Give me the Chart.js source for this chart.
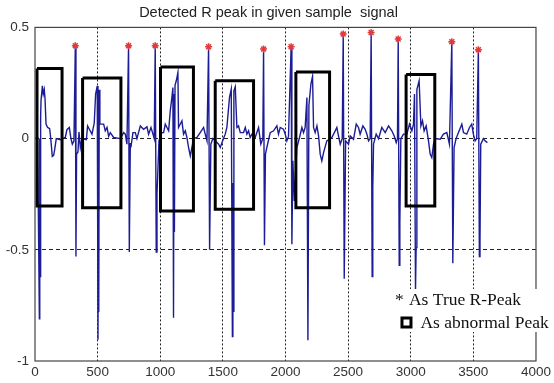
<!DOCTYPE html>
<html>
<head>
<meta charset="utf-8">
<script src="https://cdn.jsdelivr.net/npm/chart.js@4.4.1/dist/chart.umd.min.js"></script>
<style>
  html, body { margin: 0; padding: 0; background: #fff; }
</style>
</head>
<body>
<canvas id="ecg" width="554" height="383"></canvas>
<script>
const chartTitle = 'Detected R peak in given sample  signal';
const xTicks = [0, 500, 1000, 1500, 2000, 2500, 3000, 3500, 4000];
const xTickLabels = ['0', '500', '1000', '1500', '2000', '2500', '3000', '3500', '4000'];
const yTicks = [-1, -0.5, 0, 0.5];
const yTickLabels = ['-1', '-0.5', '0', '0.5'];

// ECG samples (sample index, amplitude)
const sigX = [0, 21, 35, 38, 41, 45, 48, 59, 66, 74, 80, 88, 101, 117, 125, 138, 149, 157, 170, 202,
  242, 255, 274, 287, 298, 311, 322, 327, 332, 343, 351, 362, 375, 410, 420, 436, 455, 473, 484, 497,
  503, 506, 509, 513, 518, 548, 561, 575, 588, 601, 628, 681, 708, 721, 734, 747, 753, 761, 766, 782,
  801, 814, 841, 867, 894, 907, 926, 942, 952, 960, 968, 974, 990, 1013, 1027, 1040, 1067, 1080, 1093, 1101,
  1106, 1110, 1113, 1118, 1128, 1141, 1146, 1173, 1186, 1200, 1213, 1226, 1240, 1253, 1266, 1293, 1319, 1346, 1359, 1373,
  1386, 1394, 1404, 1420, 1439, 1466, 1479, 1505, 1519, 1532, 1553, 1567, 1576, 1580, 1583, 1588, 1599, 1612, 1625, 1639,
  1665, 1679, 1692, 1705, 1718, 1732, 1745, 1758, 1785, 1803, 1819, 1825, 1832, 1840, 1851, 1878, 1905, 1931, 1944, 1958,
  1984, 1998, 2011, 2024, 2045, 2051, 2059, 2070, 2080, 2091, 2112, 2131, 2144, 2157, 2171, 2179, 2187, 2203, 2216, 2224,
  2237, 2251, 2264, 2277, 2290, 2304, 2330, 2370, 2397, 2410, 2423, 2437, 2453, 2461, 2469, 2480, 2503, 2517, 2543, 2565,
  2583, 2596, 2618, 2636, 2650, 2663, 2676, 2684, 2692, 2697, 2703, 2724, 2743, 2769, 2796, 2823, 2849, 2868, 2884, 2894,
  2900, 2908, 2913, 2921, 2942, 2969, 2990, 3009, 3022, 3030, 3038, 3043, 3049, 3067, 3081, 3094, 3107, 3123, 3142, 3155,
  3168, 3182, 3195, 3235, 3261, 3288, 3309, 3328, 3336, 3346, 3362, 3381, 3408, 3421, 3447, 3469, 3487, 3500, 3514, 3527,
  3535, 3540, 3548, 3553, 3559, 3580, 3593, 3612];
const sigY = [0, 0.005, -0.81, 0.0, -0.62, 0.1, 0.17, 0.237, 0.2, 0.22, 0.18, 0.065, 0.05, 0.045, 0.005, -0.08, -0.075, -0.05, 0, -0.005,
  0.005, 0.04, 0.05, 0, -0.025, -0.01, 0.418, -0.53, -0.07, -0.06, 0.03, -0.04, 0, -0.005, 0.057, 0.04, 0.02, 0.07, 0.2, 0.237,
  -0.904, -0.3, -0.78, 0.22, 0.065, 0.065, 0.035, 0.05, 0.01, 0.027, 0.005, 0, 0.027, 0.02, -0.025, 0.418, -0.51, -0.02, -0.04, 0.027,
  0.027, 0, 0.057, 0.042, 0.053, 0.02, 0.05, 0.02, 0, 0.418, -0.51, -0.25, -0.01, 0.027, 0.027, 0.065, 0.035, 0.125, 0.185, 0.23,
  -0.806, 0.2, -0.42, 0.24, 0.26, 0.297, 0.05, 0.08, 0.02, 0.035, 0.005, -0.04, -0.078, -0.04, 0, 0.005, 0.027, 0.05, 0.02, -0.01,
  0.413, -0.5, -0.025, 0, -0.01, -0.025, -0.04, 0, 0.02, 0.05, 0.185, 0.222, -0.89, -0.2, -0.776, 0.215, 0.233, 0.05, 0.057, 0.027,
  0.027, 0.05, 0.02, 0.035, 0.005, 0.02, 0.012, 0.005, 0.05, -0.025, 0, 0.403, -0.48, -0.07, -0.04, 0.027, 0.035, 0.057, 0.02, 0.05,
  0.042, 0.02, -0.01, 0.01, 0.413, -0.475, -0.1, -0.28, -0.15, -0.04, 0.005, 0.05, 0.027, 0.05, 0.185, -0.907, 0.15, 0.245, 0.28, 0.05,
  0.027, 0.057, 0.012, -0.07, -0.1, -0.063, -0.01, 0.005, 0.035, 0.05, 0.012, -0.025, 0, 0.47, -0.63, -0.01, -0.025, 0.012, -0.003, 0.065,
  0.05, 0.02, 0.057, 0.042, 0.02, -0.01, 0, 0.477, -0.62, -0.22, -0.025, 0.02, 0, 0.05, 0.027, 0.057, 0.035, 0.012, -0.018, 0,
  0.448, -0.57, -0.38, 0, 0.02, 0.02, 0.065, 0.035, 0.065, 0.2, -0.686, -0.49, 0.22, 0.26, 0.057, 0.08, 0.035, 0.057, -0.01, -0.07,
  -0.085, -0.025, 0, -0.003, 0.02, 0.027, -0.025, 0.436, -0.56, -0.04, 0, 0.027, 0.065, 0.027, 0.02, 0.05, 0.065, 0.02, -0.01, 0,
  0.25, 0.4, -0.53, -0.46, -0.025, 0, -0.01, -0.018];

// detected true R peaks (red asterisks)
const peakX = [322, 747, 960, 1386, 1825, 2045, 2461, 2684, 2900, 3328, 3540];
const peakY = [0.418, 0.418, 0.418, 0.413, 0.403, 0.413, 0.47, 0.477, 0.448, 0.436, 0.4];

// abnormal beat boxes
const boxLeft = [16, 380, 1002, 1439, 2083, 2963];
const boxRight = [216, 686, 1265, 1745, 2352, 3192];
const boxTop = [0.315, 0.272, 0.322, 0.26, 0.3, 0.288];
const boxBottom = [-0.303, -0.311, -0.326, -0.318, -0.311, -0.303];

const legendLabels = ['As True R-Peak', 'As abnormal Peak'];

const tickFont = { family: '"Liberation Sans", Arial, sans-serif', size: 13.5 };

const datasets = [];
datasets.push({
  label: 'R peaks',
  data: peakX.map((x, i) => ({ x: x, y: peakY[i] })),
  showLine: false,
  pointStyle: 'star',
  pointRadius: 3.5,
  pointBorderColor: '#e23a3a',
  pointBorderWidth: 1.5,
  order: 0
});
boxLeft.forEach((l, i) => {
  const r = boxRight[i], t = boxTop[i], b = boxBottom[i];
  datasets.push({
    label: 'box' + i,
    data: [{ x: l, y: t }, { x: r, y: t }, { x: r, y: b }, { x: l, y: b }, { x: l, y: t }],
    borderColor: '#000',
    borderWidth: 3,
    borderJoinStyle: 'miter',
    pointRadius: 0,
    fill: false,
    order: 1
  });
});
datasets.push({
  label: 'signal',
  data: sigX.map((x, i) => ({ x: x, y: sigY[i] })),
  borderColor: '#1c1c96',
  borderWidth: 1.4,
  pointRadius: 0,
  tension: 0,
  fill: false,
  order: 2
});

// frame around plot + legend box in lower right
const framePlugin = {
  id: 'frameAndLegend',
  afterDraw(chart) {
    const { ctx, chartArea: a } = chart;
    ctx.save();
    ctx.strokeStyle = '#444';
    ctx.lineWidth = 1.2;
    ctx.strokeRect(a.left, a.top, a.right - a.left, a.bottom - a.top);

    const lx = a.right - 145;
    const ly = a.bottom - 72;
    ctx.fillStyle = '#fff';
    ctx.fillRect(lx, ly, chart.width - lx, 43);
    ctx.fillStyle = '#111';
    ctx.font = '17.5px "Liberation Serif", "Times New Roman", serif';
    ctx.textBaseline = 'middle';
    ctx.fillText('*', lx + 4, ly + 11);
    ctx.fillText(legendLabels[0], lx + 18, ly + 11);
    ctx.strokeStyle = '#000';
    ctx.lineWidth = 3;
    ctx.strokeRect(lx + 11, ly + 29, 9, 9);
    ctx.fillText(legendLabels[1], lx + 29.5, ly + 34);
    ctx.restore();
  }
};

new Chart(document.getElementById('ecg').getContext('2d'), {
  type: 'line',
  data: { datasets: datasets },
  options: {
    responsive: false,
    animation: false,
    layout: { padding: { left: 0, right: 17, top: 0, bottom: 0 } },
    plugins: {
      legend: { display: false },
      tooltip: { enabled: false },
      title: {
        display: true,
        text: chartTitle,
        color: '#222',
        font: { family: '"Liberation Sans", Arial, sans-serif', size: 14.5, weight: 'normal' },
        padding: { top: 4, bottom: 6 }
      }
    },
    scales: {
      x: {
        type: 'linear',
        min: 0,
        max: 4000,
        afterBuildTicks: s => { s.ticks = xTicks.map(v => ({ value: v })); },
        afterFit: s => { s.height = 22; },
        ticks: {
          color: '#333', font: tickFont, padding: 3, maxRotation: 0, autoSkip: false,
          callback: (v) => xTickLabels[xTicks.indexOf(v)]
        },
        grid: {
          drawTicks: false,
          color: c => (c.tick && (c.tick.value === 0 || c.tick.value === 4000)) ? 'rgba(0,0,0,0)' : '#222',
          lineWidth: 1
        },
        border: { display: false, dash: [2, 2] }
      },
      y: {
        type: 'linear',
        min: -1,
        max: 0.5,
        afterBuildTicks: s => { s.ticks = yTicks.map(v => ({ value: v })); },
        afterFit: s => { s.width = 35; },
        ticks: {
          color: '#333',
          font: tickFont,
          padding: 6,
          callback: (v) => yTickLabels[yTicks.indexOf(v)]
        },
        grid: {
          drawTicks: false,
          color: c => (c.tick && (c.tick.value === -1 || c.tick.value === 0.5)) ? 'rgba(0,0,0,0)' : '#222',
          lineWidth: 1
        },
        border: { display: false, dash: [4, 3] }
      }
    }
  },
  plugins: [framePlugin]
});
</script>
</body>
</html>
